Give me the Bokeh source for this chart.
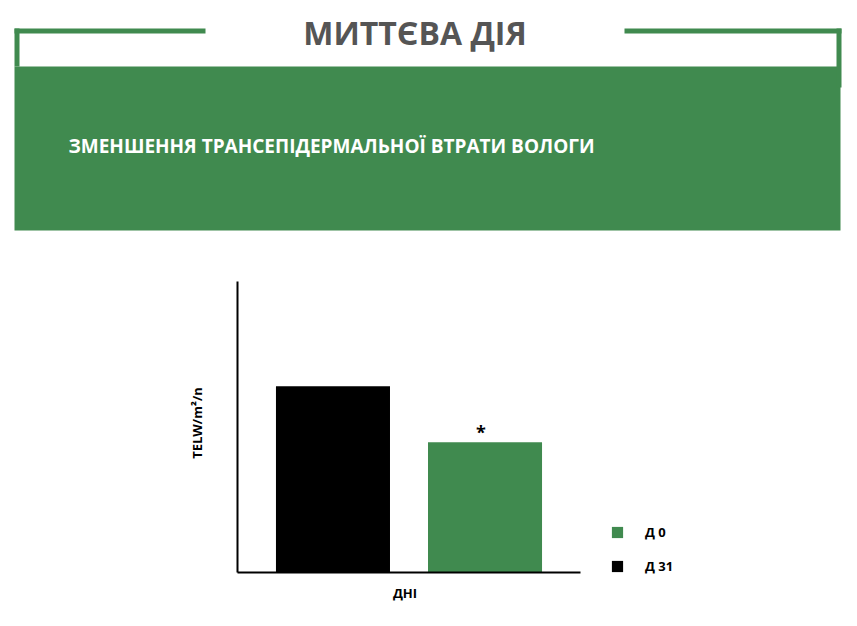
import math
from bokeh.plotting import figure
from bokeh.models import Range1d, Legend, LegendItem
from bokeh.core.properties import value
from bokeh.embed import file_html
from bokeh.resources import INLINE

# ---- data ----
title_text = "МИТТЄВА ДІЯ"
subtitle_text = "ЗМЕНШЕННЯ ТРАНСЕПІДЕРМАЛЬНОЇ ВТРАТИ ВОЛОГИ"
days = ["Д 31", "Д 0"]            # bars, left to right
telw = [16.0, 11.2]                # bar heights (arbitrary units, no ticks shown)
legend_order = ["Д 0", "Д 31"]
significant = ["Д 0"]              # bar marked with *
x_label = "ДНІ"
y_label = "TELW/m²/n"

# ---- styles / layout ----
GREEN = "#408a4f"
GREY = "#555555"
series_color = {"Д 31": "#000000", "Д 0": GREEN}
FONT = value("Open Sans")
W, H = 857, 626

# chart plot-area box on the page (pixels) and the value window it shows
BOX_L, BOX_R, BOX_T, BOX_B = 237, 580, 281, 572
Y_MAX = 25.0
PAD = 0.628                     # category padding, in category units
x_lo, x_hi = -PAD, len(days) - 1 + PAD
ppx = (BOX_R - BOX_L) / (x_hi - x_lo)
ppy = (BOX_B - BOX_T) / Y_MAX
x_range = Range1d(x_lo - BOX_L / ppx, x_hi + (W - BOX_R) / ppx)
y_range = Range1d(0 - (H - BOX_B) / ppy, Y_MAX + BOX_T / ppy)

p = figure(width=W, height=H, x_range=x_range, y_range=y_range,
           output_backend="svg", toolbar_location=None,
           x_axis_location=None, y_axis_location=None, min_border=0)
p.outline_line_color = None
p.grid.visible = False
p.extra_x_ranges = {"px": Range1d(0, W)}
p.extra_y_ranges = {"px": Range1d(H, 0)}
PX = dict(x_range_name="px", y_range_name="px")

# ---- header ----
p.quad(left=[14], right=[840], top=[66], bottom=[230], fill_color=GREEN, line_color=None, **PX)
p.quad(left=[14, 14, 624, 836], right=[205, 19, 841, 841],
       top=[28, 28, 28, 28], bottom=[33, 66, 33, 87],
       fill_color=GREEN, line_color=None, **PX)
p.text(x=[414.5], y=[32], text=[title_text], text_align="center",
       text_baseline="middle", text_font=FONT, text_font_style="bold",
       text_font_size="32px", text_color=GREY, **PX)
p.text(x=[68], y=[145.5], text=[subtitle_text], text_align="left",
       text_baseline="middle", text_font=FONT, text_font_style="bold",
       text_font_size="19px", text_color="white", **PX)

# ---- bars ----
x_idx = list(range(len(days)))
renderers = {}
for i, d, v in zip(x_idx, days, telw):
    renderers[d] = p.vbar(x=[i], top=[v], width=0.75,
                          fill_color=series_color[d], line_color=None)

p.text(x=[days.index(s) for s in significant],
       y=[telw[days.index(s)] for s in significant], text=["*"] * len(significant),
       text_align="center", text_baseline="middle", x_offset=-4, y_offset=-10,
       text_font=FONT, text_font_style="bold", text_font_size="18px", text_color="black")

# ---- axes (lines only, no ticks) ----
p.segment(x0=[x_lo, x_lo], y0=[0, 0], x1=[x_lo, x_hi], y1=[Y_MAX, 0],
          line_color="black", line_width=2)
p.text(x=[(x_lo + x_hi) / 2], y=[0], text=[x_label], x_offset=-4, y_offset=20,
       text_align="center", text_baseline="middle",
       text_font=FONT, text_font_style="bold", text_font_size="13px", text_color="black")
p.text(x=[x_lo], y=[Y_MAX / 2], text=[y_label], x_offset=-41, y_offset=-4, angle=math.pi / 2,
       text_align="center", text_baseline="middle",
       text_font=FONT, text_font_style="bold", text_font_size="13px", text_color="black")

# ---- legend ----
legend = Legend(items=[LegendItem(label=d, renderers=[renderers[d]]) for d in legend_order],
                location=(610, H - 575), orientation="vertical",
                glyph_width=14, glyph_height=14, label_height=14, label_standoff=21,
                spacing=16, padding=0, margin=0,
                border_line_color=None, background_fill_alpha=0,
                label_text_font="Open Sans", label_text_font_style="bold",
                label_text_font_size="13px", label_text_color="black")
p.add_layout(legend, "center")

open("out.html", "w").write(file_html(p, INLINE))
